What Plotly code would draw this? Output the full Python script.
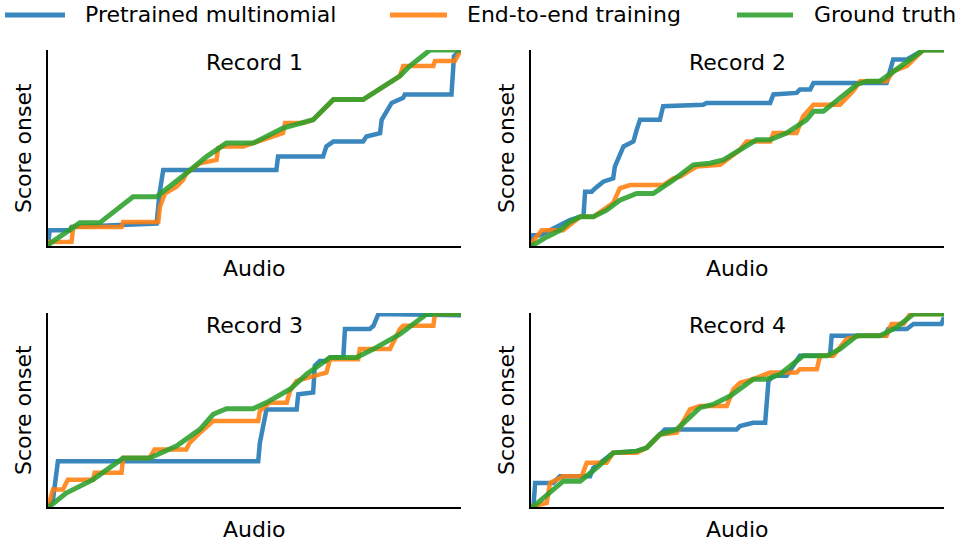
import plotly.graph_objects as go

# ---- data (normalised audio position 0-100, score onset 0-100) ----
series_names = ["Pretrained multinomial", "End-to-end training", "Ground truth"]
record_titles = ["Record 1", "Record 2", "Record 3", "Record 4"]

r1_blue_x = [0, 0.4, 5.3, 5.7, 26.3, 27.0, 27.9, 55.3, 55.7, 66.6, 67.4, 69.1, 76.3, 77.1, 80.4, 80.8, 83.2, 86.0, 86.4, 97.7, 98.3, 100]
r1_blue_y = [0, 8.0, 8.0, 9.7, 11.5, 26.8, 38.8, 38.8, 45.6, 45.6, 50.8, 53.3, 53.3, 55.9, 57.6, 64.4, 73.0, 75.6, 77.3, 77.3, 96.9, 100]
r1_orange_x = [0, 0.4, 5.7, 6.1, 17.8, 18.2, 26.7, 27.1, 28.3, 31.1, 32.7, 33.5, 36.8, 40.8, 41.2, 42.4, 47.3, 49.7, 56.9, 57.4, 61.8, 64.2, 69.1, 76.3, 85.2, 86.0, 93.3, 93.7, 98.5, 99.4, 100]
r1_orange_y = [0, 2.0, 2.1, 9.7, 9.7, 12.3, 12.3, 20.0, 26.8, 30.3, 33.7, 37.1, 42.2, 43.9, 49.9, 50.8, 50.8, 52.5, 57.6, 62.7, 62.7, 64.4, 74.7, 74.7, 86.7, 91.8, 91.8, 94.4, 94.4, 97.8, 100]
r1_green_x = [0, 0.4, 7.7, 12.5, 20.6, 26.3, 33.5, 38.4, 43.2, 49.7, 56.9, 61.0, 64.2, 69.1, 76.3, 85.2, 87.6, 92.5, 100]
r1_green_y = [0, 1.2, 11.8, 11.8, 25.1, 25.1, 37.1, 45.6, 52.5, 52.5, 60.2, 62.7, 64.4, 74.7, 74.7, 86.7, 91.8, 100, 100]

r2_blue_x = [0, 0.3, 2.2, 9.4, 11.9, 12.7, 13.1, 14.7, 15.5, 17.5, 19.9, 20.3, 22.4, 24.8, 25.6, 26.4, 31.2, 32.0, 41.7, 42.5, 57.9, 58.7, 64.3, 65.1, 67.6, 68.4, 86.1, 87.7, 91.0, 95.0, 100]
r2_blue_y = [0, 5.5, 5.5, 13.2, 14.9, 14.9, 27.7, 27.7, 29.4, 32.8, 34.5, 40.5, 50.8, 53.3, 59.3, 64.4, 64.4, 71.3, 72.1, 73.0, 73.0, 77.3, 78.1, 79.8, 79.8, 83.2, 83.2, 95.2, 95.2, 100, 100]
r2_orange_x = [0, 0.6, 2.6, 7.8, 11.9, 15.1, 19.9, 21.5, 24.0, 32.0, 34.5, 36.1, 40.1, 45.8, 50.6, 52.2, 57.9, 58.7, 64.3, 65.9, 68.4, 74.8, 78.0, 79.7, 86.1, 87.7, 91.0, 95.0, 100]
r2_orange_y = [0, 2.9, 8.0, 8.0, 14.9, 14.9, 22.0, 29.4, 31.1, 31.1, 34.5, 35.4, 40.5, 41.4, 49.1, 53.3, 53.3, 57.6, 57.6, 66.2, 72.1, 72.1, 79.0, 84.1, 84.1, 89.2, 91.8, 100, 100]
r2_green_x = [0, 0.4, 3.8, 7.0, 9.4, 11.9, 15.1, 18.3, 21.5, 25.6, 29.6, 34.5, 39.3, 43.3, 46.6, 52.2, 54.6, 57.9, 61.9, 66.7, 68.4, 70.8, 75.6, 78.9, 81.3, 84.5, 88.5, 92.6, 95.0, 100]
r2_green_y = [0, 0.3, 4.6, 8.0, 12.3, 14.9, 14.9, 18.3, 23.4, 26.8, 26.8, 33.7, 41.4, 42.2, 43.9, 51.6, 54.2, 54.2, 57.6, 64.4, 68.7, 68.7, 76.4, 82.4, 84.1, 84.1, 90.1, 96.1, 100, 100]

r3_blue_x = [0, 1.2, 2.4, 50.9, 51.3, 52.9, 60.2, 60.6, 64.2, 64.6, 65.8, 67.4, 68.3, 71.5, 71.9, 77.9, 78.8, 80.0, 100]
r3_blue_y = [0, 3.8, 23.6, 23.6, 33.1, 50.3, 50.3, 58.1, 59.0, 72.8, 75.3, 75.3, 77.1, 77.1, 91.7, 91.7, 93.4, 99.5, 98.8]
r3_orange_x = [0, 0.4, 1.2, 3.6, 4.8, 10.9, 11.3, 17.8, 18.2, 24.6, 25.8, 33.5, 34.3, 36.8, 40.0, 50.9, 51.3, 53.7, 57.8, 58.6, 60.2, 65.8, 67.4, 68.3, 75.1, 75.5, 82.8, 83.6, 85.2, 86.0, 93.3, 93.7, 100]
r3_orange_y = [0, 3.0, 9.0, 9.0, 14.1, 14.1, 17.6, 17.6, 25.3, 25.3, 29.7, 29.7, 33.1, 38.3, 44.3, 44.3, 49.5, 53.8, 53.8, 59.8, 65.0, 68.4, 69.3, 76.2, 76.2, 81.4, 81.4, 84.8, 91.7, 93.4, 93.4, 99.5, 99.5]
r3_green_x = [0, 0.4, 4.4, 10.9, 18.2, 24.6, 31.1, 36.8, 40.0, 43.2, 49.7, 52.9, 58.6, 62.6, 68.3, 74.7, 78.8, 85.2, 91.7, 100]
r3_green_y = [0, 0.3, 7.2, 14.1, 25.3, 25.3, 31.4, 40.0, 47.8, 50.7, 50.7, 53.8, 60.7, 68.4, 77.1, 77.1, 81.4, 89.1, 99.5, 99.5]

r4_blue_x = [0, 0.6, 1.0, 5.4, 7.0, 14.3, 15.1, 19.9, 25.6, 28.0, 32.4, 49.8, 50.6, 53.8, 56.7, 57.5, 58.7, 61.9, 65.1, 72.4, 72.8, 85.7, 86.5, 91.0, 92.6, 99.4, 100]
r4_blue_y = [0, 0.3, 12.4, 12.4, 15.9, 15.9, 20.2, 27.9, 28.8, 30.5, 40.0, 40.0, 41.7, 43.4, 43.4, 65.0, 67.6, 67.6, 77.9, 77.9, 88.3, 88.3, 91.7, 91.7, 94.3, 94.3, 97.8]
r4_orange_x = [0, 3.8, 4.6, 7.8, 12.3, 13.5, 18.3, 19.9, 25.6, 28.0, 31.2, 35.3, 38.5, 40.9, 47.4, 49.0, 50.6, 53.8, 57.9, 64.3, 65.1, 69.2, 70.0, 73.2, 76.4, 79.7, 86.1, 87.3, 90.2, 91.8, 100]
r4_orange_y = [0, 2.1, 12.4, 15.9, 15.9, 22.8, 22.8, 27.9, 27.9, 30.5, 37.4, 38.3, 50.3, 52.1, 52.1, 60.7, 64.1, 65.9, 69.3, 69.3, 71.0, 71.0, 77.9, 77.9, 86.6, 88.3, 88.3, 94.3, 94.3, 99.5, 99.5]
r4_green_x = [0, 0.6, 7.8, 11.9, 15.9, 19.9, 25.6, 28.0, 31.2, 35.3, 40.9, 44.1, 48.2, 53.8, 57.1, 60.3, 65.9, 71.6, 74.8, 78.9, 84.5, 88.5, 92.6, 100]
r4_green_y = [0, 0.3, 13.3, 13.3, 20.2, 27.9, 28.8, 30.5, 37.4, 40.0, 51.2, 52.9, 57.2, 65.9, 65.9, 68.4, 77.9, 77.9, 81.4, 88.3, 88.3, 92.6, 99.5, 99.5]

records = [
    [(r1_blue_x, r1_blue_y), (r1_orange_x, r1_orange_y), (r1_green_x, r1_green_y)],
    [(r2_blue_x, r2_blue_y), (r2_orange_x, r2_orange_y), (r2_green_x, r2_green_y)],
    [(r3_blue_x, r3_blue_y), (r3_orange_x, r3_orange_y), (r3_green_x, r3_green_y)],
    [(r4_blue_x, r4_blue_y), (r4_orange_x, r4_orange_y), (r4_green_x, r4_green_y)],
]

# ---- styling ----
W, H = 961, 542
colors = ["#1f77b4", "#ff7f0e", "#2ca02c"]
widths = [4.5, 4.5, 5]
FONT = "DejaVu Sans"
FS = 22

# axes boxes in pixels: (left, right, top, bottom)
boxes = [(48, 461, 50, 246), (531, 944, 50, 246), (48, 461, 313, 507), (531, 944, 313, 507)]
# legend layout in pixels: (line start, line end, text start)
legend_pos = [(5, 65, 83), (390, 447, 465), (737, 793, 812)]
legend_y = 15

fig = go.Figure()
for i, rec in enumerate(records):
    ax = "" if i == 0 else str(i + 1)
    for j, (xs, ys) in enumerate(rec):
        fig.add_trace(go.Scatter(
            x=xs, y=ys, mode="lines", name=series_names[j],
            line=dict(color=colors[j], width=widths[j]), opacity=0.88,
            showlegend=False, legendgroup=series_names[j],
            xaxis="x" + ax, yaxis="y" + ax,
        ))

layout = dict(
    width=W, height=H, margin=dict(l=0, r=0, t=0, b=0),
    paper_bgcolor="white", plot_bgcolor="white",
    font=dict(family=FONT, size=FS, color="black"),
    showlegend=False,
)
annotations = []
shapes = []
for i, (l, r, t, b) in enumerate(boxes):
    ax = "" if i == 0 else str(i + 1)
    common = dict(showline=True, linecolor="black", linewidth=2, showgrid=False,
                  zeroline=False, showticklabels=False, ticks="", fixedrange=True)
    layout["xaxis" + ax] = dict(domain=[l / W, r / W], range=[0, 100], anchor="y" + ax, **common)
    layout["yaxis" + ax] = dict(domain=[1 - b / H, 1 - t / H], range=[0, 100], anchor="x" + ax, **common)
    annotations.append(dict(text=record_titles[i], x=(l + r) / 2 / W, y=1 - (t + 12) / H,
                            xref="paper", yref="paper", showarrow=False,
                            xanchor="center", yanchor="middle", font=dict(size=FS)))
    annotations.append(dict(text="Audio", x=(l + r) / 2 / W, y=1 - (b + 22) / H,
                            xref="paper", yref="paper", showarrow=False,
                            xanchor="center", yanchor="middle", font=dict(size=FS)))
    annotations.append(dict(text="Score onset", x=(l - 25) / W, y=1 - (t + b) / 2 / H,
                            xref="paper", yref="paper", showarrow=False, textangle=-90,
                            xanchor="center", yanchor="middle", font=dict(size=FS)))

for j, (x0, x1, xt) in enumerate(legend_pos):
    shapes.append(dict(type="line", xref="paper", yref="paper",
                       x0=x0 / W, x1=x1 / W, y0=1 - legend_y / H, y1=1 - legend_y / H,
                       line=dict(color=colors[j], width=5), opacity=0.88))
    annotations.append(dict(text=series_names[j], x=xt / W, y=1 - legend_y / H,
                            xref="paper", yref="paper", showarrow=False,
                            xanchor="left", yanchor="middle", font=dict(size=FS)))

layout["annotations"] = annotations
layout["shapes"] = shapes
fig.update_layout(**layout)
fig.write_html("out.html", config={"displayModeBar": False},
               post_script="document.body.style.margin='0';document.body.style.overflow='hidden';")
